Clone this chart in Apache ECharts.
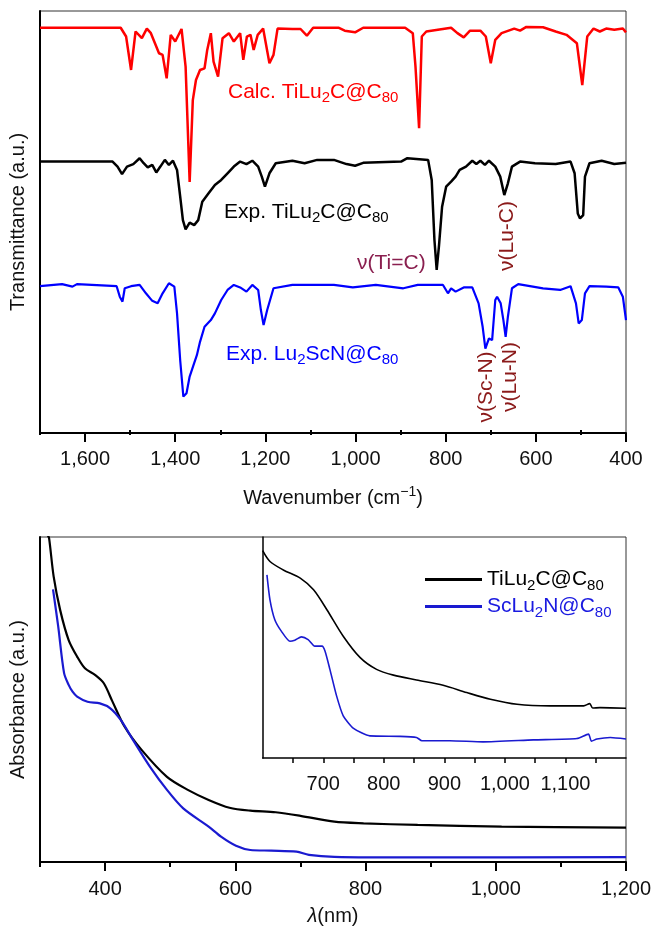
<!DOCTYPE html>
<html><head><meta charset="utf-8">
<script src="https://cdn.jsdelivr.net/npm/echarts@6/dist/echarts.min.js"></script>
<style>html,body{margin:0;padding:0;background:#fff}#c{width:655px;height:931px}</style>
</head><body><div id="c"></div>
<script>
// ---------- IR spectra (top panel) ----------
const irTickLabels = [1600, 1400, 1200, 1000, 800, 600, 400];
const irMinorTicks = [1700, 1500, 1300, 1100, 900, 700, 500];

const calcWn = [1700,1521,1509,1498,1488,1474,1463,1454,1445,1436,1428,1419,1410,1400,1386,1377,1368,1361,1354,1345,1335,1329,1321,1315,1305,1295,1281,1270,1256,1249,1241,1233,1226,1217,1205,1191,1182,1173,1140,1122,1108,1094,1038,1024,1001,983,890,873,867,859,853,843,788,774,760,746,723,711,700,690,676,648,635,621,584,556,532,509,497,486,472,458,444,426,407,400];
const calcT  = [96.2,96.2,94.1,86.1,95.3,93.7,96.0,94.9,92.5,90.1,89.7,84.1,94.5,92.9,95.9,86.9,59.3,78.9,83.7,86.1,86.5,90.9,94.9,88.1,84.5,93.7,94.9,92.9,94.9,88.5,94.1,94.5,90.9,94.5,96.0,87.7,89.7,96.0,95.9,95.9,94.3,96.2,96.2,95.5,95.1,96.2,96.2,94.9,86.9,72.2,94.1,95.3,96.2,94.9,93.9,95.5,95.5,94.1,87.7,93.3,94.9,96.0,95.5,96.4,96.3,95.3,94.5,92.5,82.5,94.1,96.0,95.3,96.0,95.7,96.0,95.1];

const expTiWn = [1700,1539,1528,1518,1507,1493,1479,1470,1461,1451,1442,1433,1423,1414,1405,1396,1389,1383,1377,1368,1358,1349,1340,1326,1312,1298,1284,1270,1256,1242,1229,1216,1208,1201,1191,1177,1140,1113,1085,1048,1020,1001,983,899,885,839,831,825,820,815,808,799,788,778,769,755,741,732,723,713,704,690,679,670,662,653,635,602,556,523,514,507,502,495,491,481,454,426,400];
const expTiT  = [64.2,64.2,63.0,61.2,63.0,63.6,65.0,63.8,62.8,63.4,61.6,63.0,64.6,63.4,64.4,62.2,55.8,50.2,48.0,49.6,49.0,50.2,54.6,56.6,58.6,59.8,61.4,63.0,64.2,63.6,64.4,63.0,60.6,58.2,61.4,63.8,64.4,63.8,64.6,64.6,63.6,63.2,63.9,64.2,65.0,64.6,59.8,45.5,38.3,43.9,53.4,58.2,59.4,60.6,62.2,63.0,64.4,63.6,64.4,63.4,64.4,63.0,60.6,56.2,59.0,63.0,64.2,63.8,63.6,64.2,61.4,51.8,50.6,51.4,60.6,63.8,64.4,63.6,63.9];

const expScWn = [1700,1651,1628,1618,1530,1523,1517,1512,1498,1479,1465,1451,1439,1428,1414,1402,1396,1389,1382,1375,1368,1358,1352,1345,1335,1321,1312,1298,1284,1270,1256,1242,1229,1216,1210,1204,1196,1182,1140,1048,1006,955,894,862,806,795,788,778,760,741,727,718,712,704,697,690,686,678,672,667,662,653,639,584,546,523,511,505,498,491,481,444,417,407,400];
const expScT  = [34.4,34.9,34.3,34.9,34.4,31.9,30.7,33.9,34.4,34.7,32.7,30.9,30.3,32.7,35.1,34.3,27.9,16.7,8.0,8.8,12.8,16.0,17.9,21.1,24.7,26.3,27.9,31.1,33.5,34.7,34.1,33.1,34.7,33.5,28.7,25.1,28.7,33.9,34.7,34.7,34.1,34.7,33.9,34.7,34.7,32.7,33.9,33.1,34.1,34.1,30.3,24.7,19.5,21.9,21.5,31.1,31.9,30.3,26.3,22.3,27.1,33.9,34.9,33.9,33.5,34.4,30.3,25.5,26.3,32.7,34.4,34.3,34.1,31.9,26.3];

// ---------- UV-vis-NIR spectra (bottom panel) ----------
const uvTickLabels = [400, 600, 800, 1000, 1200];
const uvMinorTicks = [300, 500, 700, 900, 1100];
const insetTickLabels = [700, 800, 900, 1000, 1100];
const insetTicks = [650, 700, 750, 800, 850, 900, 950, 1000, 1050, 1100, 1150];

const uvTiNm = [312,314,321,331,344,357,369,385,398,411,430,456,495,527,559,591,623,662,700,752,797,880,1009,1200];
const uvTiA  = [100.5,99.6,87.8,77.5,68.3,63.2,59.6,57.5,55.0,49.5,41.6,34.5,26.2,22.2,19.1,16.7,15.8,15.3,14.2,12.4,11.9,11.4,10.9,10.6];
const uvScNm = [320,328,337,344,350,357,373,392,408,424,443,469,495,520,559,578,601,623,655,694,713,752,880,1200];
const uvScA  = [83.9,72.4,58.1,54.5,52.4,50.9,49.3,48.8,47.3,43.7,37.5,29.3,22.2,16.5,10.9,7.8,5.0,3.7,3.5,3.2,2.2,1.6,1.4,1.5];

const insetTiNm = [600,612,634,662,684,706,733,761,788,816,854,898,937,976,1020,1075,1130,1140,1145,1157,1200];
const insetTiA  = [93.8,88.9,85.1,81.4,76.1,67.1,55.1,45.4,40.1,37.5,35.3,32.9,29.6,26.6,24.3,23.6,23.6,24.6,22.6,22.8,22.5];
const insetScNm = [607,612,620,631,645,653,664,675,686,698,703,711,722,733,750,777,827,854,863,909,964,1047,1119,1138,1143,1152,1174,1200];
const insetScA  = [82.9,71.6,62.6,57.3,52.8,53.3,54.8,53.6,50.6,50.6,48.3,40.1,28.1,19.1,13.4,10.0,9.8,9.3,7.8,7.8,7.3,8.2,8.8,10.8,7.6,8.6,9.3,8.6];

const FONT = '"Liberation Sans", Arial, Helvetica, sans-serif';
const pairs = (xs, ys) => xs.map((x, i) => [x, ys[i]]);
const fmt = v => Number(v).toLocaleString('en-US');

const rich = {
  n: { fontSize: 20, lineHeight: 26, fontFamily: FONT },
  s: { fontSize: 14, lineHeight: 10, verticalAlign: 'bottom', fontFamily: FONT },
  sup: { fontSize: 14, lineHeight: 10, verticalAlign: 'top', fontFamily: FONT },
  it: { fontSize: 20, lineHeight: 26, fontStyle: 'italic', fontFamily: FONT }
};
const labRich = {
  n: { fontSize: 21, lineHeight: 27, fontFamily: FONT },
  s: { fontSize: 15, lineHeight: 10, verticalAlign: 'bottom', fontFamily: FONT }
};

const legendRich = {
  'TiLu2C@C80': '{n|TiLu}{s|2}{n|C@C}{s|80}',
  'ScLu2N@C80': '{n|ScLu}{s|2}{n|N@C}{s|80}'
};

function mainX(grid, min, max, inverse, labels, name, nameGap, margin) {
  return {
    type: 'value', gridIndex: grid, min, max, inverse, position: 'bottom',
    axisLine: { show: true, onZero: false, lineStyle: { color: '#000', width: 2 } },
    axisTick: { show: true, customValues: labels, length: 9, lineStyle: { color: '#000', width: 2 } },
    axisLabel: { customValues: labels, formatter: fmt, margin, fontSize: 20, color: '#111', fontFamily: FONT },
    splitLine: { show: false },
    name, nameLocation: 'middle', nameGap,
    nameTextStyle: { color: '#111', fontSize: 20, fontFamily: FONT, rich }
  };
}
function minorX(grid, min, max, inverse, ticks, len, width) {
  return {
    type: 'value', gridIndex: grid, min, max, inverse, position: 'bottom',
    axisLine: { show: false },
    axisTick: { show: true, customValues: ticks, length: len, lineStyle: { color: '#000', width } },
    axisLabel: { show: false }, splitLine: { show: false }
  };
}
function plainY(grid, min, max, name, width) {
  return {
    type: 'value', gridIndex: grid, min, max,
    axisLine: { show: true, onZero: false, lineStyle: { color: '#000', width } },
    axisTick: { show: false }, axisLabel: { show: false }, splitLine: { show: false },
    name, nameLocation: 'middle', nameGap: 12,
    nameTextStyle: { color: '#111', fontSize: 20, fontFamily: FONT }
  };
}
function line(name, data, color, width, xi, yi, smooth) {
  return {
    type: 'line', name, data, xAxisIndex: xi, yAxisIndex: yi,
    showSymbol: false, symbol: 'none', smooth: smooth || false, clip: true,
    color, lineStyle: { color, width }, itemStyle: { color }, z: 3
  };
}

const option = {
  animation: false,
  backgroundColor: '#fff',
  textStyle: { fontFamily: FONT },
  grid: [
    { left: 40, top: 11, width: 586, height: 422, show: true, borderColor: '#333', borderWidth: 1, backgroundColor: 'transparent' },
    { left: 40, top: 537, width: 586, height: 325, show: true, borderColor: '#333', borderWidth: 1, backgroundColor: 'transparent' },
    { left: 262.7, top: 537, width: 363.3, height: 221, show: false }
  ],
  xAxis: [
    mainX(0, 400, 1700, true, irTickLabels, '{n|Wavenumber (cm}{sup|−1}{n|)}', 52, 16),
    minorX(0, 400, 1700, true, irMinorTicks, 5, 2),
    mainX(1, 300, 1200, false, uvTickLabels, '{it|λ}{n|(nm)}', 41, 17),
    minorX(1, 300, 1200, false, uvMinorTicks, 5, 2),
    {
      type: 'value', gridIndex: 2, min: 600, max: 1200, position: 'bottom',
      axisLine: { show: true, onZero: false, lineStyle: { color: '#000', width: 1.5 } },
      axisTick: { show: true, customValues: insetTicks, length: 5, lineStyle: { color: '#000', width: 1.5 } },
      axisLabel: { customValues: insetTickLabels, formatter: fmt, margin: 16, fontSize: 20, color: '#111', fontFamily: FONT },
      splitLine: { show: false }
    }
  ],
  yAxis: [
    plainY(0, -0.7, 100.2, 'Transmittance (a.u.)', 2),
    plainY(1, 0, 100, 'Absorbance (a.u.)', 2),
    Object.assign(plainY(2, 0, 100, '', 1.5), { name: '' })
  ],
  legend: {
    show: true, orient: 'vertical', left: 420, top: 564,
    itemWidth: 57, itemHeight: 3, itemGap: 3, icon: 'rect',
    selectedMode: false,
    data: [
      { name: 'TiLu2C@C80', textStyle: { color: '#000' } },
      { name: 'ScLu2N@C80', textStyle: { color: '#1a1ae0' } }
    ],
    formatter: n => legendRich[n],
    textStyle: { fontSize: 21, fontFamily: FONT, rich: labRich }
  },
  series: [
    line('Exp. TiLu2C@C80 (IR)', pairs(expTiWn, expTiT), '#000', 2.5, 0, 0),
    line('Exp. Lu2ScN@C80 (IR)', pairs(expScWn, expScT), '#0000ff', 2.2, 0, 0),
    line('Calc. TiLu2C@C80 (IR)', pairs(calcWn, calcT), '#ff0000', 2.5, 0, 0),
    line('TiLu2C@C80', pairs(uvTiNm, uvTiA), '#000', 2.2, 2, 1, 0.3),
    line('ScLu2N@C80', pairs(uvScNm, uvScA), '#1a1ad0', 2.2, 2, 1, 0.3),
    line('TiLu2C@C80', pairs(insetTiNm, insetTiA), '#000', 1.6, 4, 2, 0.3),
    line('ScLu2N@C80', pairs(insetScNm, insetScA), '#1a1ad0', 1.6, 4, 2, 0.2)
  ],
  graphic: [
    { type: 'text', x: 228, y: 92, z: 10, style: { text: '{n|Calc. TiLu}{s|2}{n|C@C}{s|80}', rich: labRich, fill: '#ff0000', verticalAlign: 'middle', align: 'left' } },
    { type: 'text', x: 224, y: 212, z: 10, style: { text: '{n|Exp. TiLu}{s|2}{n|C@C}{s|80}', rich: labRich, fill: '#000', verticalAlign: 'middle', align: 'left' } },
    { type: 'text', x: 226, y: 354, z: 10, style: { text: '{n|Exp. Lu}{s|2}{n|ScN@C}{s|80}', rich: labRich, fill: '#0000ff', verticalAlign: 'middle', align: 'left' } },
    { type: 'text', x: 357, y: 263, z: 10, style: { text: 'ν(Ti=C)', font: '21px ' + FONT, fill: '#8a1f4f', verticalAlign: 'middle', align: 'left' } },
    { type: 'text', x: 507, y: 236, rotation: Math.PI / 2, z: 10, style: { text: 'ν(Lu-C)', font: '21px ' + FONT, fill: '#8b1a1a', verticalAlign: 'middle', align: 'center' } },
    { type: 'text', x: 486, y: 387, rotation: Math.PI / 2, z: 10, style: { text: 'ν(Sc-N)', font: '21px ' + FONT, fill: '#8b1a1a', verticalAlign: 'middle', align: 'center' } },
    { type: 'text', x: 510, y: 377, rotation: Math.PI / 2, z: 10, style: { text: 'ν(Lu-N)', font: '21px ' + FONT, fill: '#8b1a1a', verticalAlign: 'middle', align: 'center' } }
  ]
};

const chart = echarts.init(document.getElementById('c'), null, { renderer: 'canvas' });
chart.setOption(option);
</script></body></html>
